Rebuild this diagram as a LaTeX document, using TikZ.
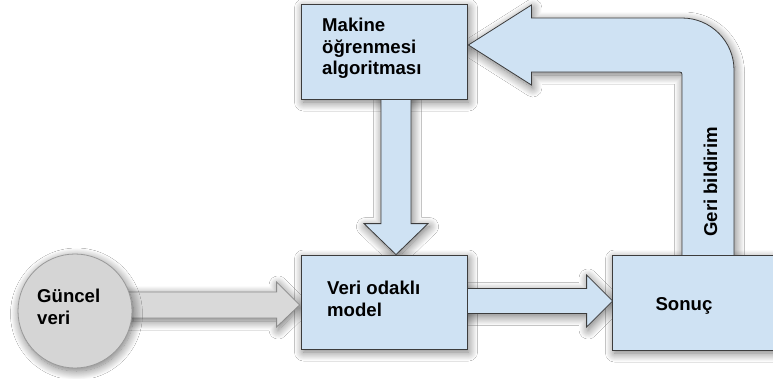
\documentclass[tikz,border=0pt]{standalone}
\usepackage{fontspec}
\setmainfont{Liberation Sans}
\usetikzlibrary{calc,shadows.blur}
\definecolor{boxblue}{HTML}{CFE2F3}
\definecolor{edgegray}{HTML}{3C3C3C}
\definecolor{circfill}{HTML}{D5D5D5}
\definecolor{circedge}{HTML}{9A9A9A}
\definecolor{garrowfill}{HTML}{D9D9D9}
\definecolor{garrowedge}{HTML}{8C8C8C}
\tikzset{
  sh/.style={blur shadow={shadow blur steps=14, shadow xshift=1.5pt, shadow yshift=-3pt, shadow blur radius=9pt, shadow opacity=55}},
  box/.style={draw=edgegray, fill=boxblue, line width=0.8pt, inner sep=0pt, sh},
  circ/.style={circle, draw=circedge, fill=circfill, line width=0.8pt, inner sep=0pt, minimum size=114pt, sh},
  barrow/.style={draw=edgegray, fill=boxblue, line width=0.8pt, line join=miter, sh},
  garrow/.style={draw=garrowedge, fill=garrowfill, line width=0.8pt, line join=miter, sh},
  lbl/.style={font=\fontsize{18.6}{21.5}\selectfont\bfseries, inner sep=0pt, align=left, text=black},
}
\begin{document}
\begin{tikzpicture}[x=1pt, y=-1pt]
\useasboundingbox (0,0) rectangle (773,378);
\fill[white] (0,0) rectangle (773,378);

% nodes (boxes)
\node[box, minimum width=165pt, minimum height=94pt] (alg) at (384.5,52) {};
\node[box, minimum width=165pt, minimum height=93pt] (model) at (384.5,302.5) {};
\node[box, minimum width=160pt, minimum height=94pt] (res) at (693,303) {};

% down arrow: alg -> model
\coordinate (dS) at ($(alg.south)+(11.5,-4)$);
\coordinate (dT) at ($(model.north)+(11.5,-1)$);
\draw[barrow] ($(dS)+(-15,0)$) -- ($(dT)+(-15,-31)$) -- ($(dT)+(-32,-31)$) -- (dT)
  -- ($(dT)+(32,-31)$) -- ($(dT)+(15,-31)$) -- ($(dS)+(15,0)$) -- cycle;

% right arrow: model -> res
\coordinate (rS) at ($(model.east)+(-4,-1.5)$);
\coordinate (rT) at ($(res.west)+(0,-2)$);
\draw[barrow] ($(rS)+(0,-12.5)$) -- ($(rT)+(-26,-12.5)$) -- ($(rT)+(-26,-26)$) -- (rT)
  -- ($(rT)+(-26,26)$) -- ($(rT)+(-26,12.5)$) -- ($(rS)+(0,12.5)$) -- cycle;

% feedback arrow: res -> alg
\coordinate (fL) at ($(res.north)+(-11,4)$);
\coordinate (fR) at ($(res.north)+(41,4)$);
\coordinate (fT) at ($(alg.east)+(1,-7)$);
\draw[barrow] (fL) -- ($(fL |- fT)+(0,32)$)
  .. controls ($(fL |- fT)+(0,27)$) .. ($(fL |- fT)+(-5,27)$)
  -- ($(fT)+(63,27)$) -- ($(fT)+(63,40)$) -- (fT) -- ($(fT)+(63,-40)$) -- ($(fT)+(63,-27)$)
  -- ($(fL |- fT)+(0,-27)$)
  .. controls ($(fL |- fT)+(28.7,-27)$) and ($(fR |- fT)+(0,-3.7)$) .. ($(fR |- fT)+(0,25)$)
  -- (fR) -- cycle;

% gray arrow: current data -> model
\coordinate (gS) at (120,305);
\coordinate (gT) at ($(model.west)+(-2,2.5)$);
\draw[garrow] ($(gS)+(0,-13)$) -- ($(gT)+(-23,-13)$) -- ($(gT)+(-23,-23)$) -- (gT)
  -- ($(gT)+(-23,22)$) -- ($(gT)+(-23,13)$) -- ($(gS)+(0,13)$) -- cycle;

% boxes on top of arrow ends
\draw[draw=edgegray, fill=boxblue, line width=0.8pt] (alg.south west) rectangle (alg.north east);
\draw[draw=edgegray, fill=boxblue, line width=0.8pt] (model.south west) rectangle (model.north east);
\draw[draw=edgegray, fill=boxblue, line width=0.8pt] (res.south west) rectangle (res.north east);

% circle
\node[circ] (cur) at (75,311) {};

% labels
\node[lbl, anchor=north west] (talg) at (322,18) {Makine\\öğrenmesi\\algoritması};
\node[lbl, anchor=north west] (tmodel) at (327,281) {Veri odaklı\\model};
\node[lbl, anchor=north west] (tcur) at (37,289) {Güncel\\veri};
\node[lbl, anchor=base] (tres) at (684,310) {Sonuç};
\node[lbl, anchor=base, rotate=90] (tfb) at (717,182) {Geri bildirim};
\end{tikzpicture}
\end{document}
